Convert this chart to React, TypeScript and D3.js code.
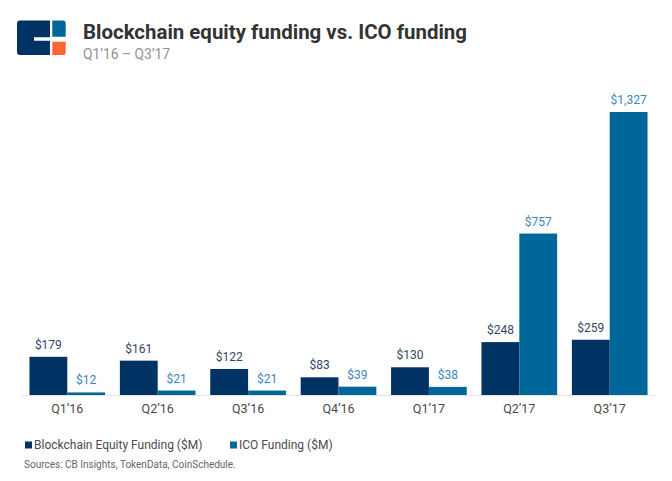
import React from "react";
import * as d3 from "d3";

const quarters = ["Q1'16", "Q2'16", "Q3'16", "Q4'16", "Q1'17", "Q2'17", "Q3'17"];
const equityFunding = [179, 161, 122, 83, 130, 248, 259];
const icoFunding = [12, 21, 21, 39, 38, 757, 1327];
const seriesKeys = ["equity", "ico"];
const seriesNames = ["Blockchain Equity Funding ($M)", "ICO Funding ($M)"];

const W = 672;
const H = 481;
const baseY = 395;
const colors = ["#003263", "#00679b"];
const labelColors = ["#34465f", "#3a86bd"];
const FONT = "Roboto, 'Noto Sans', sans-serif";

export default function App() {
  const x = d3
    .scaleBand<string>()
    .domain(quarters)
    .range([22, 655])
    .paddingInner(0.163)
    .paddingOuter(0.0825);
  const x1 = d3.scaleBand<string>().domain(seriesKeys).range([0, x.bandwidth()]);
  const y = d3.scaleLinear().domain([0, 1327]).range([baseY, 112]);
  const series = [equityFunding, icoFunding];

  return (
    <svg
      width={W}
      height={H}
      style={{ position: "absolute", left: 0, top: 0, background: "#fff" }}
      fontFamily={FONT}
    >
      <rect width={W} height={H} fill="#fff" />
      {/* logo */}
      <g>
        <path
          d="M20,20.5 H50 V37.3 H34 V40.7 H50 V55 H20 Q17,55 17,52 V23.5 Q17,20.5 20,20.5 Z"
          fill="#003263"
        />
        <path d="M52.3,20.5 H63 Q65.7,20.5 65.7,23.2 V36.7 H52.3 Z" fill="#00679b" />
        <path d="M52.3,41.7 H65.7 V52.3 Q65.7,55 63,55 H52.3 Z" fill="#ff6633" />
      </g>
      <text
        x={83}
        y={39}
        fontSize={21}
        fontWeight={700}
        fill="#333333"
        textLength={384}
        lengthAdjust="spacingAndGlyphs"
      >
        Blockchain equity funding vs. ICO funding
      </text>
      <text x={83} y={59} fontSize={15} fill="#929292" textLength={87} lengthAdjust="spacingAndGlyphs">
        Q1’16 – Q3’17
      </text>

      {/* baseline */}
      <line x1={22} x2={655} y1={baseY + 0.5} y2={baseY + 0.5} stroke="#e3e3e3" strokeWidth={1} />

      {quarters.map((q, i) => (
        <g key={q} transform={`translate(${x(q)},0)`}>
          {seriesKeys.map((k, s) => {
            const v = series[s][i];
            const bx = x1(k) as number;
            const bw = x1.bandwidth();
            return (
              <g key={k}>
                <rect x={bx} y={y(v)} width={bw} height={baseY - y(v)} fill={colors[s]} />
                <text
                  x={bx + bw / 2}
                  y={y(v) - 8}
                  textAnchor="middle"
                  fontSize={12}
                  fill={labelColors[s]}
                >
                  {"$" + d3.format(",")(v)}
                </text>
              </g>
            );
          })}
          <text x={x.bandwidth() / 2} y={413} textAnchor="middle" fontSize={12.5} fill="#4a4a4a">
            {q.replace("'", "’")}
          </text>
        </g>
      ))}

      {/* legend */}
      {seriesNames.map((n, s) => {
        const lx = s === 0 ? 25 : 230;
        return (
          <g key={n}>
            <rect x={lx} y={441.5} width={7} height={7} fill={colors[s]} />
            <text x={lx + 9} y={449} fontSize={12} fill="#4a4a4a">
              {n}
            </text>
          </g>
        );
      })}
      <text x={24} y={468} fontSize={10} fill="#666">
        Sources: CB Insights, TokenData, CoinSchedule.
      </text>
    </svg>
  );
}
